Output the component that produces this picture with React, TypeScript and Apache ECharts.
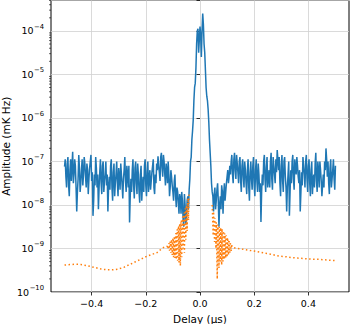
import React, { useEffect, useRef } from "react";
import * as echarts from "echarts";

// Blue series: delay grid -0.5..0.5 (step 0.005), amplitude as log10 values
const blueStart = -0.5;
const blueStep = 0.005;
const blueLog = [
  -7.12, -7.35, -7.05, -7.55, -7.2, -7.45, -6.78, -7.3, -7.1, -8.15,
  -7.4, -7.15, -7.5, -6.95, -7.3, -7.05, -7.6, -7.2, -7.4, -7.0,
  -7.45, -8.25, -7.3, -6.9, -7.6, -8.1, -7.25, -7.5, -7.1, -7.7,
  -7.3, -7.55, -8.15, -7.35, -7.1, -7.6, -7.25, -7.8, -7.3, -7.5,
  -7.15, -7.65, -7.3, -7.85, -7.2, -7.45, -7.1, -7.6, -8.4, -7.4,
  -7.2, -7.55, -7.15, -7.5, -7.05, -7.7, -7.3, -7.9, -7.35, -7.1,
  -7.55, -7.25, -7.7, -7.2, -7.45, -7.1, -7.6, -7.3, -7.05, -6.88,
  -7.25, -6.9, -7.15, -6.85, -7.3, -7.05, -7.5, -7.3, -7.6, -7.35,
  -7.7, -7.45, -7.8, -7.6, -7.95, -7.75, -8.2, -7.9, -8.5, -8.0,
  -8.3, -7.8, -7.65, -7.0, -6.5, -6.05, -5.3, -4.85, -4.0, -4.5,
  -3.9, -4.6, -3.6, -4.3, -4.9, -5.5, -5.8, -6.5, -7.1, -7.7,
  -8.15, -7.6, -7.9, -7.5, -8.5, -7.8, -7.55, -8.2, -7.5, -7.7,
  -7.35, -7.5, -7.1, -7.0, -7.3, -6.95, -7.2, -6.85, -7.25, -7.0,
  -7.45, -7.1, -7.35, -7.0, -7.5, -7.2, -7.6, -7.25, -7.4, -7.1,
  -7.55, -7.2, -7.45, -7.05, -7.7, -8.39, -7.3, -7.0, -7.4, -7.15,
  -7.6, -7.2, -7.0, -7.4, -6.9, -7.3, -6.95, -6.74, -7.2, -7.5,
  -7.1, -7.45, -7.0, -7.35, -8.15, -7.3, -8.25, -7.2, -7.0, -7.4,
  -6.95, -7.3, -7.1, -7.5, -8.15, -7.25, -6.9, -7.3, -7.0, -7.4,
  -7.1, -7.5, -7.2, -7.75, -7.3, -7.05, -7.45, -7.0, -7.6, -7.2,
  -7.8, -7.3, -7.0, -6.7, -7.35, -7.5, -7.15, -7.6, -7.2, -7.4,
  -7.1,
];
// Blue values read half-way between the grid points above (delay + 0.0025)
const blueLogMid = [
  -6.95, -7.6, -6.9, -7.8, -6.95, -7.1, -7.5, -6.95, -7.6, -7.7,
  -6.85, -7.7, -7.2, -7.55, -6.9, -7.35, -7.05, -7.75, -7.15, -6.85,
  -7.25, -7.9, -7.55, -7.15, -7.3, -7.6, -6.95, -7.75, -7.0, -7.45,
  -7.0, -7.3, -7.6, -7.65, -6.95, -7.9, -7.05, -7.5, -7.0, -7.8,
  -7.35, -7.05, -7.55, -7.4, -6.9, -7.7, -7.3, -7.1, -7.8, -7.7,
  -6.95, -7.85, -7.0, -7.75, -7.3, -7.95, -7.1, -7.55, -7.7, -6.95,
  -7.8, -7.0, -7.4, -7.65, -7.25, -6.95, -7.75, -7.5, -7.2, -7.1,
  -7.45, -6.8, -7.35, -7.0, -7.55, -7.2, -7.0, -7.8, -7.2, -7.55,
  -7.9, -7.3, -8.05, -7.7, -8.2, -7.85, -7.7, -8.3, -7.75, -8.45,
  -7.9, -8.1, -7.4, -6.9, -6.3, -5.6, -5.2, -4.3, -3.95, -4.2,
  -4.1, -4.0, -3.85, -4.5, -5.3, -5.6, -6.1, -6.8, -7.5, -7.8,
  -7.75, -8.1, -7.65, -7.9, -8.0, -8.1, -7.7, -7.75, -7.9, -7.5,
  -7.2, -7.35, -7.3, -6.85, -7.5, -6.8, -7.4, -7.05, -7.5, -6.9,
  -7.7, -6.95, -7.6, -7.2, -7.75, -6.95, -7.9, -7.0, -7.65, -6.9,
  -7.8, -6.95, -7.7, -7.3, -7.5, -7.7, -7.55, -6.85, -7.7, -6.9,
  -7.4, -7.6, -6.8, -7.65, -7.1, -7.5, -7.25, -6.95, -6.9, -7.8,
  -6.85, -7.7, -6.9, -7.6, -7.6, -7.0, -7.7, -7.5, -6.85, -7.65,
  -7.15, -6.9, -7.35, -7.2, -7.7, -7.55, -7.1, -7.6, -6.85, -7.7,
  -6.95, -7.8, -7.0, -7.45, -7.6, -6.8, -7.7, -7.2, -7.0, -7.45,
  -7.55, -7.6, -7.2, -6.95, -7.0, -7.75, -6.95, -7.4, -6.95, -7.65,
];

// Orange series (log10 amplitude), read in four pieces; the centre is empty
const orangeLeftDelay = [
  -0.5, -0.48, -0.46, -0.44, -0.42, -0.4, -0.38, -0.36, -0.34, -0.32,
  -0.3, -0.28, -0.26, -0.24, -0.22, -0.2, -0.18, -0.16, -0.14, -0.13,
];
const orangeLeftLog = [
  -9.38, -9.37, -9.36, -9.37, -9.39, -9.42, -9.45, -9.48, -9.49, -9.49,
  -9.47, -9.43, -9.37, -9.31, -9.25, -9.19, -9.14, -9.1, -9.0, -8.96,
];
const oscStep = 0.00125;
const orangeLeftOscStart = -0.12;
const orangeLeftOscLog = [
  -8.95, -8.92, -9.02, -8.97, -8.9, -8.88, -9.05, -8.93, -8.86, -8.84,
  -9.1, -8.9, -8.82, -8.8, -9.15, -8.88, -8.78, -8.76, -9.2, -8.85,
  -8.74, -8.72, -9.22, -8.8, -8.68, -8.65, -9.25, -8.75, -8.6, -8.56,
  -9.28, -8.7, -8.52, -8.48, -9.32, -8.6, -8.45, -8.42, -9.4, -8.55,
  -8.38, -8.35, -9.2, -8.45, -8.3, -8.27, -9.0, -8.35, -8.22, -8.18,
  -9.1, -8.3, -8.12, -8.08, -8.8, -8.2, -8.04, -8.0, -8.6, -8.05,
  -7.9, -7.85, -8.35, -7.9, -7.77, -7.72, -7.7,
];
const orangeRightOscStart = 0.045;
const orangeRightOscLog = [
  -8.0, -8.2, -8.45, -8.7, -8.15, -8.35, -8.6, -8.85, -8.3, -8.5,
  -8.75, -9.0, -8.4, -8.6, -9.2, -9.7, -8.45, -8.5, -8.8, -9.1,
  -9.45, -8.5, -8.55, -8.85, -9.3, -8.52, -8.6, -8.9, -9.38, -8.55,
  -8.62, -8.95, -9.3, -8.6, -8.66, -8.95, -9.25, -8.65, -8.7, -8.98,
  -9.22, -8.7, -8.74, -8.98, -9.2, -8.75, -8.78, -8.98, -9.15, -8.8,
  -8.82, -8.98, -9.1, -8.85, -8.86, -8.97, -9.06, -8.9, -8.91, -8.97,
  -8.96,
];
const orangeRightDelay = [
  0.125, 0.13, 0.14, 0.16, 0.18, 0.2, 0.22, 0.24, 0.26, 0.28,
  0.3, 0.32, 0.34, 0.36, 0.38, 0.4, 0.42, 0.44, 0.46, 0.48,
  0.5,
];
const orangeRightLog = [
  -8.98, -8.99, -9.0, -9.02, -9.04, -9.06, -9.08, -9.11, -9.13, -9.16,
  -9.18, -9.19, -9.21, -9.22, -9.23, -9.24, -9.25, -9.25, -9.26, -9.27,
  -9.28,
];

const xTickValues = [-0.4, -0.2, 0, 0.2, 0.4];
const minorMultipliers = [2, 3, 4, 5, 6, 7, 8, 9];
const decadeExponents = [-10, -9, -8, -7, -6, -5, -4];

const X_MIN = -0.55;
const X_MAX = 0.55;
const Y_MIN = 1e-10;
const Y_MAX = 5e-4;

const FONT = "DejaVu Sans";
const TICK_FS = 9.5;
const SUP_FS = 6.8;

export default function App() {
  const ref = useRef<HTMLDivElement>(null);

  useEffect(() => {
    if (!ref.current) return;
    const chart = echarts.init(ref.current, undefined, { renderer: "svg" });

    const blueData: number[][] = [];
    blueLog.forEach((l, i) => {
      const x = blueStart + i * blueStep;
      blueData.push([x, Math.pow(10, l)]);
      if (i < blueLogMid.length) {
        blueData.push([x + blueStep / 2, Math.pow(10, blueLogMid[i])]);
      }
    });

    const orangeData: any[] = [];
    orangeLeftDelay.forEach((d, i) => orangeData.push([d, Math.pow(10, orangeLeftLog[i])]));
    orangeLeftOscLog.forEach((l, i) =>
      orangeData.push([orangeLeftOscStart + i * oscStep, Math.pow(10, l)])
    );
    orangeData.push([0, "-"]);
    orangeRightOscLog.forEach((l, i) =>
      orangeData.push([orangeRightOscStart + i * oscStep, Math.pow(10, l)])
    );
    orangeRightDelay.forEach((d, i) => orangeData.push([d, Math.pow(10, orangeRightLog[i])]));

    const minorData: number[][] = [];
    decadeExponents.forEach((e) => {
      minorMultipliers.forEach((m) => {
        const v = m * Math.pow(10, e);
        if (v <= Y_MAX) minorData.push([X_MIN, v]);
      });
    });

    chart.setOption({
      animation: false,
      backgroundColor: "#fff",
      textStyle: { fontFamily: FONT },
      grid: {
        left: 51,
        right: 1,
        top: 0.5,
        bottom: 32,
        containLabel: false,
        outerBoundsMode: "none",
        show: true,
        borderColor: "#000",
        borderWidth: 1,
        backgroundColor: "transparent",
      },
      xAxis: {
        type: "value",
        min: X_MIN,
        max: X_MAX,
        name: "Delay (μs)",
        nameLocation: "middle",
        nameGap: 15.5,
        nameTextStyle: { fontFamily: FONT, fontSize: 10.5, color: "#000" },
        axisLine: { show: false },
        axisTick: {
          show: true,
          length: 3.5,
          lineStyle: { color: "#000", width: 0.8 },
          customValues: xTickValues,
        },
        axisLabel: {
          customValues: xTickValues,
          margin: 6.5,
          fontFamily: FONT,
          fontSize: TICK_FS,
          color: "#000",
          formatter: (v: number) => (v < -1e-9 ? "−" : "") + Math.abs(v).toFixed(1),
        },
        splitLine: { show: true, lineStyle: { color: "#d0d0d0", width: 0.8 } },
      },
      yAxis: {
        type: "log",
        logBase: 10,
        min: Y_MIN,
        max: Y_MAX,
        name: "Amplitude (mK Hz)",
        nameLocation: "middle",
        nameGap: 39.5,
        nameTextStyle: { fontFamily: FONT, fontSize: 10.5, color: "#000" },
        axisLine: { show: false },
        axisTick: { show: true, length: 3.5, lineStyle: { color: "#000", width: 0.8 } },
        axisLabel: { show: false },
        splitLine: { show: true, lineStyle: { color: "#d0d0d0", width: 0.8 } },
      },
      series: [
        {
          type: "line",
          data: blueData,
          showSymbol: false,
          symbol: "none",
          lineStyle: { color: "#1f77b4", width: 1.5 },
          itemStyle: { color: "#1f77b4" },
          z: 2,
        },
        {
          type: "line",
          data: orangeData,
          showSymbol: false,
          symbol: "none",
          connectNulls: false,
          lineStyle: { color: "#ff7f0e", width: 1.5, type: [1.5, 2.5] },
          itemStyle: { color: "#ff7f0e" },
          z: 3,
        },
        {
          type: "custom",
          silent: true,
          clip: false,
          data: minorData,
          encode: { x: 0, y: 1 },
          renderItem: (_p: any, api: any) => {
            const pt = api.coord([api.value(0), api.value(1)]);
            return {
              type: "line",
              shape: { x1: pt[0] - 2, y1: pt[1], x2: pt[0], y2: pt[1] },
              style: { stroke: "#000", lineWidth: 0.6 },
            };
          },
          z: 4,
        },
      ],
    });

    // Y tick labels as 10^e with a superscript, placed through the axis scale
    const labelRight = 44;
    const elements: any[] = [];
    decadeExponents.forEach((e) => {
      const y = chart.convertToPixel({ yAxisIndex: 0 }, Math.pow(10, e)) as number;
      const sup = (e < 0 ? "−" : "") + Math.abs(e);
      const supW = new echarts.graphic.Text({
        style: { text: sup, fontSize: SUP_FS, fontFamily: FONT },
      }).getBoundingRect().width;
      elements.push({
        type: "text",
        x: labelRight,
        y: y - 4,
        silent: true,
        style: {
          text: sup,
          fontSize: SUP_FS,
          fontFamily: FONT,
          fill: "#000",
          align: "right",
          verticalAlign: "middle",
        },
      });
      elements.push({
        type: "text",
        x: labelRight - supW - 0.5,
        y: y,
        silent: true,
        style: {
          text: "10",
          fontSize: TICK_FS,
          fontFamily: FONT,
          fill: "#000",
          align: "right",
          verticalAlign: "middle",
        },
      });
    });
    chart.setOption({ graphic: { elements } });

    return () => chart.dispose();
  }, []);

  return (
    <div
      ref={ref}
      style={{ position: "fixed", left: 0, top: 0, width: 350, height: 324 }}
    />
  );
}
